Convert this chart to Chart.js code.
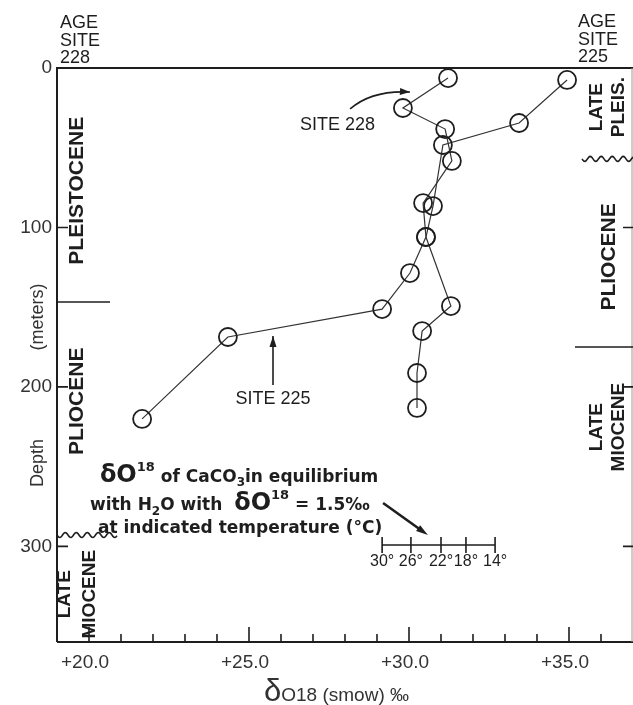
<!DOCTYPE html>
<html>
<head>
<meta charset="utf-8">
<script src="https://cdn.jsdelivr.net/npm/chart.js@4.4.1/dist/chart.umd.min.js"></script>
<style>
  html, body { margin: 0; padding: 0; background: #fff; }
</style>
</head>
<body>
<canvas id="grafico" width="633" height="705"></canvas>
<script>
// delta O18 (per mil, SMOW) against depth (m)
const site228Delta = [31.22, 29.81, 31.13, 31.34, 30.44, 30.53, 31.31, 30.41, 30.25, 30.25];
const site228Depth = [6.3, 25.1, 38.3, 58.3, 84.7, 106, 149.3, 165, 191.3, 213.2];

const site225Delta = [34.94, 33.44, 31.06, 30.75, 30.53, 30.03, 29.16, 24.34, 21.66];
const site225Depth = [7.5, 34.5, 48.3, 86.6, 106, 128.6, 151.2, 168.7, 220.1];

const xTickValues = [20, 25, 30, 35];
const xTickLabels = ['+20.0', '+25.0', '+30.0', '+35.0'];
const yTickValues = [0, 100, 200, 300];

// ages per site: label, middle depth, and the breaks between them
const ages228 = ['PLEISTOCENE', 'PLIOCENE', 'LATE|MIOCENE'];
const ages228Mid = [77, 209, 330];
const breaks228 = [146.8, 292.9];
const breaks228Kind = ['line', 'wave'];

const ages225 = ['LATE|PLEIS.', 'PLIOCENE', 'LATE|MIOCENE'];
const ages225Mid = [24.5, 118.5, 225.2];
const breaks225 = [57, 175];
const breaks225Kind = ['wave', 'line'];

// temperature scale for CaCO3 in equilibrium with water of delta = 1.5 per mil
const tempLabels = ['30°', '26°', '22°', '18°', '14°'];
const tempDelta = [29.16, 30.06, 31.0, 31.78, 32.69];

const FONT = '"Liberation Sans", Arial, sans-serif';
const INK = '#1e1e1e';

function f_puntos(xs, ys) {
    let data = [];
    for (let i = 0; i < xs.length; i++) {
        data.push({x: xs[i], y: ys[i]});
    }
    return data;
}

function f_textoVertical(ctx, txt, x, y, font) {
    ctx.save();
    ctx.translate(x, y);
    ctx.rotate(-Math.PI / 2);
    ctx.font = font;
    ctx.textAlign = 'center';
    ctx.textBaseline = 'middle';
    ctx.fillText(txt, 0, 0);
    ctx.restore();
}

function f_onda(ctx, x0, x1, y) {
    ctx.beginPath();
    for (let x = x0; x <= x1; x++) {
        let yy = y + 2.5 * Math.sin((x - x0) / 11 * 2 * Math.PI);
        if (x == x0) ctx.moveTo(x, yy); else ctx.lineTo(x, yy);
    }
    ctx.stroke();
}

function f_punta(ctx, x, y, ang, largo, ancho) {
    ctx.save();
    ctx.translate(x, y);
    ctx.rotate(ang);
    ctx.beginPath();
    ctx.moveTo(0, 0);
    ctx.lineTo(-largo, -ancho);
    ctx.lineTo(-largo, ancho);
    ctx.closePath();
    ctx.fill();
    ctx.restore();
}

// parts: [text, size, shift]
function f_linea(ctx, parts, x, y, peso, familia) {
    let cx = x;
    ctx.textAlign = 'left';
    ctx.textBaseline = 'alphabetic';
    for (const p of parts) {
        ctx.font = peso + ' ' + p[1] + 'px ' + familia;
        ctx.fillText(p[0], cx, y + p[2]);
        cx += ctx.measureText(p[0]).width;
    }
    return cx - x;
}

function f_edades(ctx, y, labels, mids, breaks, kinds, lado, a) {
    for (let i = 0; i < labels.length; i++) {
        let partes = labels[i].split('|');
        let py = y.getPixelForValue(mids[i]);
        if (partes.length == 1) {
            f_textoVertical(ctx, partes[0], lado == 'left' ? 77 : 609, py, 'bold 21px ' + FONT);
        } else {
            let xs = lado == 'left' ? [65, 90] : [597, 619];
            f_textoVertical(ctx, partes[0], xs[0], py, 'bold 19px ' + FONT);
            f_textoVertical(ctx, partes[1], xs[1], py, 'bold 19px ' + FONT);
        }
    }
    ctx.lineWidth = 1.6;
    for (let i = 0; i < breaks.length; i++) {
        let py = y.getPixelForValue(breaks[i]);
        let x0 = lado == 'left' ? a.left : (kinds[i] == 'wave' ? 582 : 575);
        let x1 = lado == 'left' ? (kinds[i] == 'wave' ? 117 : 110) : a.right;
        if (kinds[i] == 'wave') {
            f_onda(ctx, x0, x1, py);
        } else {
            ctx.beginPath(); ctx.moveTo(x0, py); ctx.lineTo(x1, py); ctx.stroke();
        }
    }
}

const decoraciones = {
    id: 'decoraciones',
    beforeDatasetsDraw(chart) {
        const {ctx, chartArea: a, scales: {x, y}} = chart;
        ctx.save();
        ctx.strokeStyle = INK;
        ctx.fillStyle = INK;

        // frame
        ctx.lineWidth = 2;
        ctx.beginPath();
        ctx.moveTo(a.left, a.bottom); ctx.lineTo(a.left, a.top); ctx.lineTo(a.right, a.top);
        ctx.moveTo(a.left, a.bottom); ctx.lineTo(a.right, a.bottom);
        ctx.stroke();
        ctx.strokeStyle = '#9a9a9a';
        ctx.lineWidth = 1;
        ctx.beginPath(); ctx.moveTo(a.right - 1, a.top); ctx.lineTo(a.right - 1, a.bottom); ctx.stroke();
        ctx.strokeStyle = INK;

        // ticks pointing inside
        ctx.lineWidth = 1.6;
        ctx.beginPath();
        for (let v = 20; v <= 36; v++) {
            let px = x.getPixelForValue(v);
            let largo = (v % 5 == 0) ? 15 : 8;
            ctx.moveTo(px, a.bottom); ctx.lineTo(px, a.bottom - largo);
        }
        for (const v of yTickValues) {
            if (v == 0) continue;
            let py = y.getPixelForValue(v);
            ctx.moveTo(a.left, py); ctx.lineTo(a.left + 11, py);
            ctx.moveTo(a.right, py); ctx.lineTo(a.right - 10, py);
        }
        ctx.stroke();

        // axis titles
        ctx.fillStyle = '#333';
        f_textoVertical(ctx, 'Depth', 38, 463, '18px ' + FONT);
        f_textoVertical(ctx, '(meters)', 38, 317, '18px ' + FONT);
        f_linea(ctx, [['δ', 31, 0], ['O18 (smow) ‰', 19, 0]], 264, 701, 'normal', FONT);
        ctx.fillStyle = INK;

        // column headers
        ctx.font = '18px ' + FONT;
        ctx.textAlign = 'left';
        ctx.textBaseline = 'alphabetic';
        ['AGE', 'SITE', '228'].forEach((t, i) => ctx.fillText(t, 60, 28 + i * 17.5));
        ['AGE', 'SITE', '225'].forEach((t, i) => ctx.fillText(t, 578, 27 + i * 17.5));

        // ages
        f_edades(ctx, y, ages228, ages228Mid, breaks228, breaks228Kind, 'left', a);
        f_edades(ctx, y, ages225, ages225Mid, breaks225, breaks225Kind, 'right', a);

        // site callouts
        ctx.font = '18px ' + FONT;
        ctx.textBaseline = 'middle';
        ctx.textAlign = 'left';
        ctx.fillText('SITE 228', x.getPixelForValue(26.59), y.getPixelForValue(35.7));
        ctx.lineWidth = 1.6;
        let p0 = [x.getPixelForValue(28.16), y.getPixelForValue(25.7)];
        let pc = [x.getPixelForValue(28.84), y.getPixelForValue(13.8)];
        let p1 = [x.getPixelForValue(30.03), y.getPixelForValue(15.1)];
        ctx.beginPath(); ctx.moveTo(p0[0], p0[1]); ctx.quadraticCurveTo(pc[0], pc[1], p1[0], p1[1]); ctx.stroke();
        f_punta(ctx, p1[0], p1[1], Math.atan2(p1[1] - pc[1], p1[0] - pc[0]), 10, 3.5);

        ctx.textAlign = 'center';
        ctx.fillText('SITE 225', x.getPixelForValue(25.75), y.getPixelForValue(207.6));
        let ax = x.getPixelForValue(25.75);
        ctx.beginPath(); ctx.moveTo(ax, y.getPixelForValue(198.8)); ctx.lineTo(ax, y.getPixelForValue(168.1)); ctx.stroke();
        f_punta(ctx, ax, y.getPixelForValue(168.1), -Math.PI / 2, 11, 3.5);

        // equilibrium note
        const EQ = '"DejaVu Sans", ' + FONT;
        f_linea(ctx, [['δO', 24, 0], ['18', 13, -11], [' of CaCO', 17, 0], ['3', 12, 4], ['in equilibrium', 17, 0]],
            x.getPixelForValue(20.34), y.getPixelForValue(259.7), 'bold', EQ);
        f_linea(ctx, [['with H', 17, 0], ['2', 12, 5], ['O with  ', 17, 0], ['δO', 24, 0], ['18', 13, -11], [' = 1.5‰', 17, 0]],
            x.getPixelForValue(20.03), y.getPixelForValue(277.2), 'bold', EQ);
        f_linea(ctx, [['at indicated temperature (°C)', 17, 0]],
            x.getPixelForValue(20.28), y.getPixelForValue(291.6), 'bold', EQ);

        let e0 = [x.getPixelForValue(29.19), y.getPixelForValue(272.8)];
        let e1 = [x.getPixelForValue(30.59), y.getPixelForValue(292.9)];
        ctx.lineWidth = 2.6;
        ctx.beginPath(); ctx.moveTo(e0[0], e0[1]); ctx.lineTo(e1[0] - 6, e1[1] - 4.3); ctx.stroke();
        f_punta(ctx, e1[0], e1[1], Math.atan2(e1[1] - e0[1], e1[0] - e0[0]), 12, 3.5);

        // temperature scale
        let ty = y.getPixelForValue(299.2);
        ctx.lineWidth = 1.6;
        ctx.beginPath();
        ctx.moveTo(x.getPixelForValue(tempDelta[0]), ty);
        ctx.lineTo(x.getPixelForValue(tempDelta[tempDelta.length - 1]), ty);
        for (const d of tempDelta) {
            let px = x.getPixelForValue(d);
            ctx.moveTo(px, ty - 8); ctx.lineTo(px, ty + 8);
        }
        ctx.stroke();
        ctx.font = '16px ' + FONT;
        ctx.textAlign = 'center';
        ctx.textBaseline = 'middle';
        tempLabels.forEach((t, i) => ctx.fillText(t, x.getPixelForValue(tempDelta[i]), y.getPixelForValue(309.8)));

        ctx.restore();
    }
};

const serie = {
    showLine: true,
    borderColor: '#333',
    borderWidth: 1.2,
    pointRadius: 9,
    pointBorderWidth: 1.8,
    pointBorderColor: INK,
    pointBackgroundColor: 'rgba(0,0,0,0)',
    clip: false
};

let myChart = document.getElementById('grafico');
let grafico = new Chart(myChart, {
    type: 'scatter',
    data: {
        datasets: [
            Object.assign({label: 'Site 228', data: f_puntos(site228Delta, site228Depth)}, serie),
            Object.assign({label: 'Site 225', data: f_puntos(site225Delta, site225Depth)}, serie)
        ]
    },
    options: {
        responsive: false,
        animation: false,
        devicePixelRatio: 1,
        layout: {autoPadding: false, padding: {top: 68, right: 0, bottom: 0, left: 0}},
        plugins: {legend: {display: false}, tooltip: {enabled: false}},
        scales: {
            x: {
                type: 'linear', min: 19, max: 37,
                grid: {display: false, drawTicks: false},
                border: {display: false},
                afterBuildTicks: s => { s.ticks = xTickValues.map(v => ({value: v})); },
                afterFit: s => { s.height = 63; s.paddingLeft = 0; s.paddingRight = 0; },
                ticks: {
                    callback: v => xTickLabels[xTickValues.indexOf(v)],
                    color: '#333', font: {size: 19, family: FONT},
                    padding: 9, labelOffset: -4, maxRotation: 0, autoSkip: false
                }
            },
            y: {
                type: 'linear', min: 0, max: 360, reverse: true,
                grid: {display: false, drawTicks: false},
                border: {display: false},
                afterBuildTicks: s => { s.ticks = yTickValues.map(v => ({value: v})); },
                afterFit: s => { s.width = 57; s.paddingTop = 0; s.paddingBottom = 0; },
                ticks: {color: '#333', font: {size: 19, family: FONT}, padding: 5, autoSkip: false}
            }
        }
    },
    plugins: [decoraciones]
});
</script>
</body>
</html>
